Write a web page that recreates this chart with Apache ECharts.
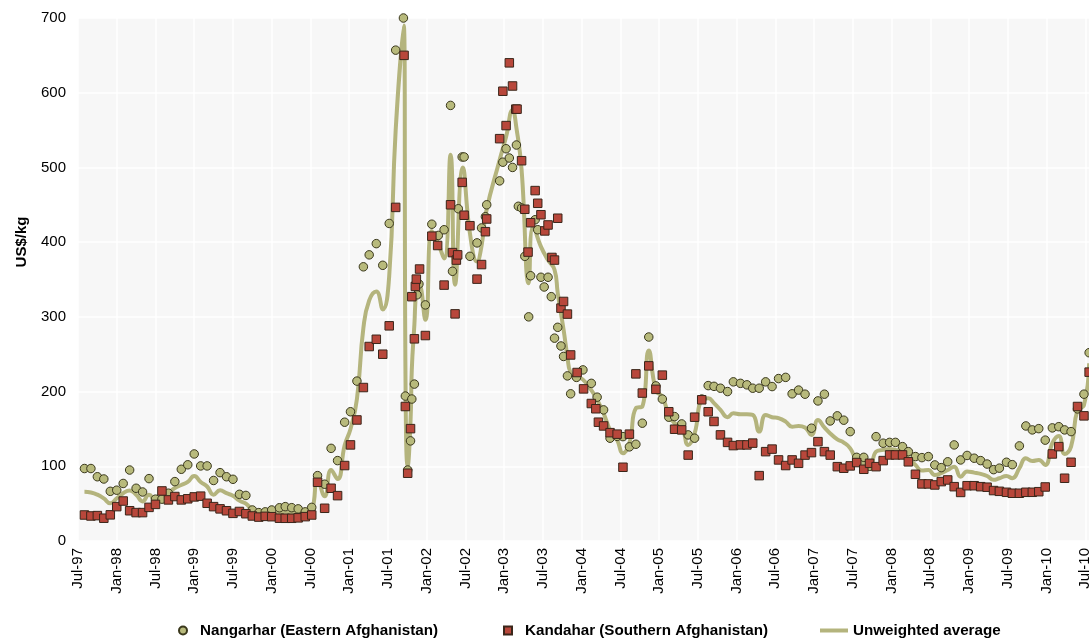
<!DOCTYPE html>
<html>
<head>
<meta charset="utf-8">
<script src="https://cdn.jsdelivr.net/npm/echarts@6/dist/echarts.min.js"></script>
<style>
html,body{margin:0;padding:0;background:#fff;}
#chart{width:1089px;height:638px;}
</style>
</head>
<body>
<div id="chart"></div>
<script>
// x = months since Jul-97, y = US$/kg
const tickLabels = ['Jul-97','Jan-98','Jul-98','Jan-99','Jul-99','Jan-00','Jul-00','Jan-01','Jul-01','Jan-02','Jul-02','Jan-03','Jul-03','Jan-04','Jul-04','Jan-05','Jul-05','Jan-06','Jul-06','Jan-07','Jul-07','Jan-08','Jul-08','Jan-09','Jul-09','Jan-10','Jul-10'];

const nangarhar = [[1,97],[2,97],[3,86],[4,83],[5,66.5],[6,68],[7,77],[8,95],[9,70.6],[10,65.6],[11,83.5],[12,56],[13,56],[14,64],[15,79.5],[16,96],[17,102],[18,116.5],[19,100.5],[20,100.5],[21,81],[22,91.5],[23,86],[24,82.6],[25,62.5],[26,61],[27,41.5],[28,38],[29,39],[30,41.5],[31.2,44.5],[32.1,46],[33.1,44.6],[34.1,43],[35.2,39],[36.2,45],[37.1,87.5],[38.2,76],[39.2,124],[40.2,107.6],[41.3,159],[42.2,173],[43.2,214],[44.2,367],[45.1,383],[46.2,398],[47.2,369],[48.2,425],[49.2,657],[50.4,700],[50.7,194],[51.06,95],[51.5,134],[51.7,190],[52.1,210],[52.5,329.5],[52.8,344],[53.8,316],[54.8,424],[55.8,409],[56.7,416.6],[57.7,583],[58.0,361],[58.9,444.7],[59.5,514],[59.8,514],[60.7,381],[61.8,399],[62.5,419],[63.1,434],[63.3,450],[65.3,482],[65.8,507],[66.3,525],[66.8,512.6],[67.3,500],[67.9,530],[68.2,448],[68.7,445.7],[69.2,381],[69.8,300],[70.1,355],[70.8,430],[71.2,416.6],[71.7,353],[72.2,340],[72.8,353],[73.3,327],[73.8,271.5],[74.3,286],[74.8,261],[75.2,247],[75.8,221],[76.3,197],[77.2,219],[78.2,229],[79.5,211],[80.4,192.5],[81.4,175.5],[82.4,137.6],[83.5,140],[84.4,139.7],[85.4,126],[86.4,129.5],[87.4,157.7],[88.4,273],[89.5,207.6],[90.5,190],[91.5,165.7],[92.4,166.5],[93.5,156.7],[94.5,142],[95.5,137.6],[96.6,190],[97.6,208],[98.5,207],[99.5,204.5],[100.6,200],[101.5,213],[102.6,211],[103.6,209],[104.5,204.5],[105.5,204.5],[106.5,213],[107.5,206.7],[108.5,217.4],[109.6,219],[110.6,197],[111.6,202],[112.6,196.5],[113.6,151],[114.6,187.5],[115.6,196.5],[116.5,160.7],[117.6,167.5],[118.6,161.7],[119.6,146.4],[120.6,112],[121.7,112],[122.6,100],[123.6,139.7],[124.7,130.9],[125.7,132],[126.6,132],[127.7,126.3],[128.6,119.6],[129.7,113],[130.7,111.6],[131.7,113],[132.7,101.8],[133.7,98.2],[134.7,106],[135.7,128.6],[136.7,108.5],[137.7,114.5],[138.8,110.8],[139.8,107.6],[140.8,103],[141.8,95.5],[142.7,97.5],[143.8,105.4],[144.7,102.2],[145.8,127.3],[146.8,154],[147.8,148.7],[148.8,150.4],[149.8,135],[150.9,151.4],[151.9,153],[152.8,148.7],[153.8,146.4],[154.8,176.8],[155.8,196.5],[156.6,252]];

const kandahar = [[1,34.8],[2,33.5],[3,34],[4,30.5],[5,35],[6,46],[7,53.5],[8,40.5],[9,38],[10,38],[11,45],[12,49],[13,67],[14,55],[15,59.5],[16,55],[17,56.5],[18,59],[19,60],[20,50.5],[21,46],[22,43],[23,40.5],[24,37],[25,39.5],[26,36.5],[27,33.5],[28,32],[29,33],[30,32.5],[31.2,30.5],[32.1,30.4],[33.1,30.4],[34.1,31],[35.2,32.6],[36.2,34.8],[37.1,78.6],[38.2,43.8],[39.2,70.6],[40.2,60.7],[41.3,101],[42.2,128.6],[43.2,162],[44.2,205.4],[45.1,260.3],[46.2,270],[47.2,250],[48.2,288],[49.2,446.5],[50.5,650],[50.7,180],[51.06,90.7],[51.5,150.4],[51.7,327],[52.1,270.6],[52.25,340.7],[52.4,350.5],[52.9,364],[53.8,275],[54.8,408],[55.7,395.5],[56.7,342.5],[57.7,450],[58.0,386],[58.4,304],[58.6,376],[58.8,383],[59.5,480],[59.8,436],[60.7,422],[61.8,350.5],[62.5,370],[63.1,414],[63.3,431],[65.3,538.5],[65.8,602],[66.3,556],[66.8,640],[67.3,609],[67.8,578],[68.0,578],[68.7,509],[69.2,444],[69.7,386.7],[70.1,426],[70.8,469],[71.2,452],[71.7,436.7],[72.3,415],[72.8,423],[73.4,379.5],[73.8,376],[74.3,432],[74.8,311.7],[75.2,320.6],[75.8,303.7],[76.3,249],[77.3,225.5],[78.3,203.6],[79.5,184],[80.2,177],[80.6,159],[81.4,154],[82.4,145],[83.5,143],[84.4,98.7],[85.4,143],[86.4,223.7],[87.4,198],[88.4,234.4],[89.5,203],[90.5,222],[91.5,173],[92.4,149.6],[93.5,148.7],[94.5,115],[95.5,165.7],[96.6,189],[97.6,173],[98.5,160],[99.5,142],[100.6,132],[101.5,127.7],[102.6,128.6],[103.6,128.6],[104.5,131],[105.5,87.5],[106.5,119.6],[107.5,123],[108.5,108.5],[109.6,101],[110.6,108.5],[111.6,104],[112.6,115],[113.6,118.3],[114.6,133],[115.6,119.6],[116.5,115],[117.6,99.5],[118.6,97.4],[119.6,100.5],[120.6,105],[121.7,96],[122.6,104],[123.6,99.5],[124.7,107.6],[125.7,115.2],[126.6,115.2],[127.7,115.2],[128.6,106],[129.7,89.3],[130.7,76.4],[131.7,76.4],[132.7,75],[133.7,79.5],[134.7,81.7],[135.7,72.7],[136.7,65],[137.7,74],[138.8,74],[139.8,72.7],[140.8,72],[141.8,67.5],[142.7,66.5],[143.8,65.2],[144.7,63.9],[145.8,63.9],[146.8,65.2],[147.8,65.2],[148.8,66],[149.8,72.3],[150.9,116.5],[151.9,126.3],[152.8,84],[153.8,105.4],[154.8,180],[155.8,167.5],[156.6,226]];

const average = [[1,66],[2,65],[3,62],[4,57],[5,50.5],[6,57],[7,64],[8,67.5],[9,62],[10,53],[11,62],[12,55],[13,57],[14,64],[15,71],[16,75],[17,79],[18,87],[19,79],[20,73],[21,62],[22,68],[23,64],[24,60.5],[25,54],[26,50],[27,42],[28,38.5],[29,37],[30,37],[31.2,37.5],[32.1,38],[33.1,37.5],[34.1,37],[35.2,36],[36.2,40],[37.1,82],[38.2,60],[39.2,95],[40.2,83],[41.3,128],[42.2,150],[43.2,190],[44.2,285],[45.1,322],[46.2,334],[47.2,310],[48.2,355],[49.2,550],[50.45,690],[50.75,187],[51.06,100],[51.5,160],[51.7,230],[52.1,290],[52.4,335],[52.8,345],[53.8,296],[54.8,415],[55.7,400],[56.7,378],[57.7,517],[58.4,343],[59.6,500],[60.7,412],[61.8,374],[62.5,395],[63.2,440],[65.3,510],[66.3,541],[67.3,577],[67.9,553],[68.7,497],[69.8,345],[70.5,421],[71.7,394],[72.8,376],[73.8,363],[74.3,332],[75.2,283],[75.8,247],[76.3,225],[77.2,220],[78.2,216],[79.5,202],[80.4,189],[81.4,171],[82.4,148.7],[83.5,135],[84.4,117.5],[85.4,131],[86.4,177.7],[87.4,180],[88.4,255],[89.5,202],[90.5,193],[91.5,169],[92.4,157.7],[93.5,153],[94.5,128.6],[95.5,144],[96.6,189],[97.6,191],[98.5,184.5],[99.5,175.5],[100.6,165.7],[101.5,171],[102.6,169.7],[103.6,169.7],[104.5,168.8],[105.5,146.4],[106.5,168.8],[107.5,165.7],[108.5,164.4],[109.6,159.8],[110.6,153],[111.6,154],[112.6,152],[113.6,142],[114.6,162],[115.6,152],[116.5,144],[117.6,136],[118.6,131.7],[119.6,124],[120.6,108.5],[121.7,104],[122.6,97.4],[123.6,119.6],[124.7,122],[125.7,123],[126.6,122],[127.7,119.6],[128.6,110.8],[129.7,101.8],[130.7,94.2],[131.7,95],[132.7,88.4],[133.7,90.7],[134.7,95],[135.7,99.5],[136.7,86],[137.7,93],[138.8,91.5],[139.8,89.8],[140.8,87],[141.8,82],[142.7,84],[143.8,87],[144.7,84],[145.8,97.4],[146.8,110.8],[147.8,107],[148.8,108.5],[149.8,101.8],[150.9,131],[151.9,140.7],[152.8,116.5],[153.8,126.3],[154.8,175.5],[155.8,182],[156.6,238]];

const seriesNames = ['Nangarhar (Eastern Afghanistan)','Kandahar (Southern Afghanistan)','Unweighted average'];
const yTicks = {min:0, max:700, step:100};

const FONT = '"Liberation Sans", Arial, sans-serif';
const chart = echarts.init(document.getElementById('chart'), null, {renderer:'canvas'});
const legendText = {fontFamily:FONT, fontWeight:'bold', fontSize:15.2, color:'#000'};
const markerLegendText = Object.assign({}, legendText, {padding:[0,0,0,8]});
chart.setOption({
  animation:false,
  backgroundColor:'#ffffff',
  grid:{left:78, top:18, width:1046, height:523, show:true, backgroundColor:'#f7f7f7', borderWidth:0,
        containLabel:false, outerBoundsMode:'none'},
  xAxis:{
    type:'value', min:0, max:162, interval:6,
    axisLine:{show:false}, axisTick:{show:false},
    splitLine:{show:true, lineStyle:{color:'#ffffff', width:1.5}},
    axisLabel:{rotate:90, margin:7, fontFamily:FONT, fontSize:15, color:'#000',
      formatter:function(v){ return tickLabels[Math.round(v/6)] || ''; }}
  },
  yAxis:{
    type:'value', min:yTicks.min, max:yTicks.max, interval:yTicks.step,
    axisLine:{show:false}, axisTick:{show:false},
    splitLine:{show:true, lineStyle:{color:'#ffffff', width:1.5}},
    axisLabel:{margin:12, fontFamily:FONT, fontSize:15, color:'#000'}
  },
  graphic:[{type:'text', x:22, y:242, rotation:Math.PI/2,
    style:{text:'US$/kg', font:'bold 15px "Liberation Sans", Arial, sans-serif', fill:'#000', textAlign:'center', textVerticalAlign:'middle'}}],
  legend:[
    {left:173, top:618, itemWidth:8, itemHeight:8, icon:'circle', data:[seriesNames[0]], textStyle:markerLegendText, selectedMode:false},
    {left:498, top:618, itemWidth:8, itemHeight:8, icon:'rect', data:[seriesNames[1]], textStyle:markerLegendText, selectedMode:false},
    {left:815, top:618, itemWidth:28, itemHeight:4, icon:'rect', data:[seriesNames[2]], textStyle:legendText, selectedMode:false}
  ],
  series:[
    {name:seriesNames[2], type:'line', data:average, smooth:0.5, showSymbol:false, symbol:'none', z:1,
      lineStyle:{color:'#b4b47d', width:4}, itemStyle:{color:'#b4b47d'}},
    {name:seriesNames[0], type:'scatter', data:nangarhar, symbol:'circle', symbolSize:8.5, z:2, clip:false,
      itemStyle:{color:'#b8ba7c', borderColor:'#3a381c', borderWidth:1, opacity:1}},
    {name:seriesNames[1], type:'scatter', data:kandahar, symbol:'rect', symbolSize:8.5, z:3, clip:false,
      itemStyle:{color:'#b8473b', borderColor:'#3a261a', borderWidth:1, opacity:1}}
  ]
});
</script>
</body>
</html>
